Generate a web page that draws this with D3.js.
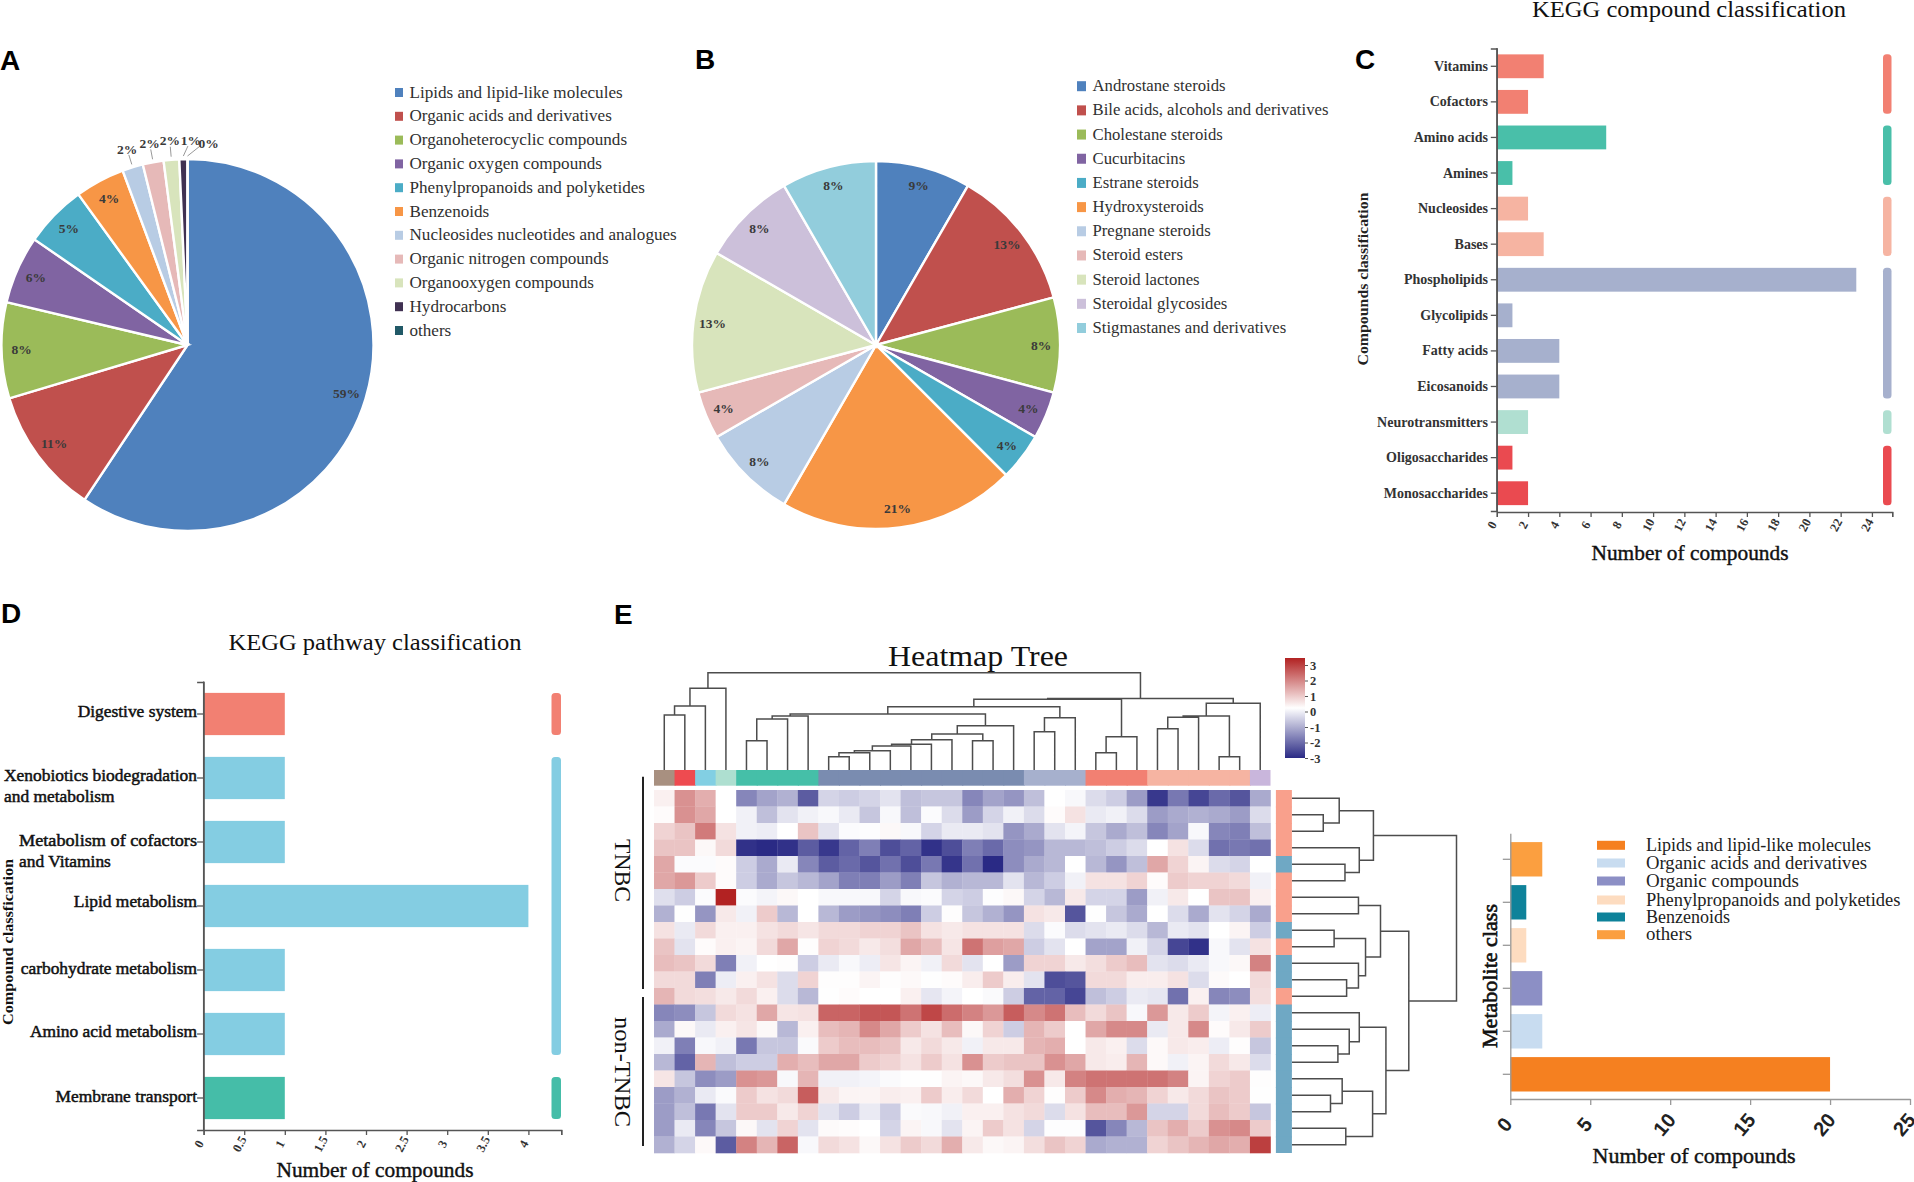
<!DOCTYPE html>
<html><head><meta charset="utf-8">
<script src="https://cdnjs.cloudflare.com/ajax/libs/d3/7.8.5/d3.min.js"></script>
<style>
html,body{margin:0;padding:0;background:#fff;overflow:hidden}
svg{display:block}
text{font-family:"Liberation Serif",serif}
</style></head><body>
<svg id="c" width="1914" height="1182"></svg>
<script>
// ---------- DATA ----------
const pieACats = ["Lipids and lipid-like molecules","Organic acids and derivatives","Organoheterocyclic compounds","Organic oxygen compounds","Phenylpropanoids and polyketides","Benzenoids","Nucleosides nucleotides and analogues","Organic nitrogen compounds","Organooxygen compounds","Hydrocarbons","others"];
const pieAValues = [59.2,11,8.3,5.9,5.4,4.3,1.8,1.8,1.35,0.7,0];
const pieALabels = ["59%","11%","8%","6%","5%","4%","2%","2%","2%","1%","0%"];
const pieAColors = ["#4f81bd","#c0504d","#9bbb59","#8064a2","#4bacc6","#f79646","#b8cce4","#e6b9b8","#d8e4bc","#403152","#215967"];

const pieBCats = ["Androstane steroids","Bile acids, alcohols and derivatives","Cholestane steroids","Cucurbitacins","Estrane steroids","Hydroxysteroids","Pregnane steroids","Steroid esters","Steroid lactones","Steroidal glycosides","Stigmastanes and derivatives"];
const pieBValues = [2,3,2,1,1,5,2,1,3,2,2];
const pieBLabels = ["9%","13%","8%","4%","4%","21%","8%","4%","13%","8%","8%"];
const pieBColors = ["#4f81bd","#c0504d","#9bbb59","#8064a2","#4bacc6","#f79646","#b8cce4","#e6b9b8","#d8e4bc","#ccc0da","#92cddc"];

const keggCats = ["Vitamins","Cofactors","Amino acids","Amines","Nucleosides","Bases","Phospholipids","Glycolipids","Fatty acids","Eicosanoids","Neurotransmitters","Oligosaccharides","Monosaccharides"];
const keggValues = [3,2,7,1,2,3,23,1,4,4,2,1,2];
const keggGroup = [0,0,1,1,2,2,3,3,3,3,4,5,5];
const keggGroupColors = ["#f28072","#49bfa9","#f6b4a2","#a6b0cd","#b0dfd1","#ea4a50"];
const keggTicks = [0,2,4,6,8,10,12,14,16,18,20,22,24];

const pathCats = ["Digestive system","Xenobiotics biodegradation|and metabolism","Metabolism of cofactors|and Vitamins","Lipid metabolism","carbohydrate metabolism","Amino acid metabolism","Membrane transport"];
const pathValues = [1,1,1,4,1,1,1];
const pathGroup = [0,1,1,1,1,1,2];
const pathGroupColors = ["#f28072","#84cde2","#45bda8"];
const pathTicks = [0,0.5,1,1.5,2,2.5,3,3.5,4];

const classCats = ["Lipids and lipid-like molecules","Organic acids and derivatives","Organic compounds","Phenylpropanoids and polyketides","Benzenoids","others"];
const classValues = [20,2,2,1,1,2];
const classColors = ["#f58020","#c8dcf0","#8c8fc5","#fddcc0","#0e829a","#fb9f40"];
const classTicks = [0,5,10,15,20,25];

const heat = [
[0.2,1.5,1.1,0,-1.7,-1.3,-1.1,-2.3,-0.6,-0.7,-0.6,-0.4,-0.9,-0.8,-0.8,-1.7,-1.3,-1.5,-0.9,0,-0.1,-0.5,-0.7,-1.4,-2.8,-1.9,-2.6,-2.1,-2.4,-1.2],
[0.05,1.5,1.2,0,-0.2,-0.9,-0.4,-0.2,-0.1,-0.3,-0.8,-0.1,-0.9,-0.05,-0.5,-1.4,-0.6,-0.2,-0.5,0.05,0.4,-0.3,-0.2,-0.5,-1.4,-1.2,-1.1,-1.2,-1.4,-0.5],
[0.6,0.8,1.8,0.4,-0.2,-0.25,0,0.8,-0.4,-0.05,-0.03,0.1,-0.1,-0.6,-0.3,-0.3,-0.4,-1.5,-1.2,-0.4,-0.15,-0.8,-1.2,-0.9,-1.7,-1.3,-0.1,-1.7,-1.8,-0.9],
[0.8,0.8,0.1,0.5,-2.9,-3,-2.9,-2.3,-2.8,-2.2,-1.8,-2.5,-2.2,-2.9,-2.5,-1.8,-2.1,-1.6,-1.5,-1,-1,-0.9,-0.7,-0.5,0,0.4,-0.5,-2,-1.9,-2],
[1.2,-0.05,-0.05,0.05,-0.7,-1.2,-0.3,-1.7,-2.3,-2.1,-2.4,-2,-2.5,-1.9,-2.85,-2,-3,-1.6,-1.2,-1,0,-1,-1.5,-0.9,1.2,0.6,0.15,-0.5,-0.6,0],
[1.2,1.4,0.7,0.05,-0.7,-1.2,-0.8,-1,-1.3,-1.8,-1.8,-1.4,-1.8,-0.8,-1.1,-1,-1,-0.4,-1,-0.7,-0.2,0.4,0.4,0.6,0.05,0.7,0.6,0.6,0.5,-0.2],
[-0.45,-0.7,-0.05,3,-0.05,-0.15,0.1,0,-0.1,-0.1,-0.1,-0.6,-0.1,-0.05,-0.6,-0.7,-0.03,0.1,-0.6,-1,0.3,-0.6,-0.6,-1.4,-0.2,0.3,0,0.8,0.8,0.2],
[-1.1,0.02,-1.5,0.3,-0.2,0.7,-1,0,-1,-1.4,-1.5,-1.6,-1.8,-0.7,0.03,-0.8,-1.1,-1.5,0.4,0.3,-2.4,0.02,-0.8,-1.2,0,-0.5,-1.2,-0.4,-0.6,-1.2],
[0.4,-0.3,0.5,0.2,0.2,0.4,0.5,0.35,0.5,0.5,0.6,0.6,0.8,0.4,0.3,0.4,0.4,0.4,-0.5,-0.05,-0.5,-0.4,-0.3,-0.5,-1,-0.3,-0.4,0,0.15,-0.7],
[0.8,-0.4,0.05,0.2,0.15,0.5,1.2,0.03,0.6,0.5,0.3,0.45,1.2,0.9,0.35,1.9,1.3,1.2,-0.7,-0.4,0,-1.3,-1.3,-0.2,-0.6,-2.6,-2.9,-0.1,-0.4,0.4],
[0.9,0.8,0.5,-1.8,-0.2,0,0.03,-0.7,-0.3,-0.1,-0.25,0.35,0.15,-0.2,0.5,-0.4,0,-1.4,0.6,0.6,0.3,0.45,0.7,0.9,-0.4,-0.5,-0.3,-0.1,0.1,1.7],
[0.5,0.5,-1.8,-0.25,0.2,0.4,-0.5,0.6,0.03,0.03,0.15,0.03,0.08,0.02,0.05,0.25,0.7,0.25,-0.4,-2.5,-2.4,0.5,0.5,0.25,0.25,0.4,-0.5,0.07,0,0.5],
[1,0.5,0.45,0.3,0.5,0.2,-0.5,-1,0.02,0.05,0,0,0.2,-0.35,-0.15,0,-0.07,-0.7,-2.2,-2.2,-2.6,-0.9,-0.7,-0.3,-0.35,-2,0.2,-1.7,-1.6,0.45],
[-1.7,-1.6,-0.8,0.5,0.4,1.2,0.35,0.4,2.1,2.1,2.3,2.3,1.9,2.5,2,1.7,1.4,2.2,1.6,1.9,0.9,0.5,0.8,-0.1,1.4,0.3,0.7,-0.15,0.2,-0.25],
[-1.2,0.1,-0.3,0.2,0.35,0.1,-1,0.2,0.9,1,1.6,1.2,0.7,0.4,0.9,0.1,0.6,-0.7,1,0.7,0,1.2,1.6,1.6,-0.3,0.3,1.6,0.05,0.3,0.7],
[-0.2,-1.8,-0.1,-0.2,-1.9,-0.8,-0.8,-0.07,0.7,0.9,0.9,0.8,0.3,0.5,0.3,-0.2,0.3,0.3,1,1.1,0,0.3,0.2,-0.5,0.08,0.3,0.25,-0.25,0.03,-0.8],
[-1,-2.2,1,-0.9,-0.7,-0.7,1.1,0.9,1.2,1.2,0.7,0.6,0.4,0.7,0.4,1.5,0.7,0.8,0.8,1.5,1.2,0.3,0.25,1,0.08,-0.2,0.15,0.5,0.3,-0.5],
[0.35,-0.8,-1.6,-1.4,1.5,1.4,-0.1,1,-0.2,-0.2,-0.15,-0.07,-0.02,0.02,0.15,0.1,0.3,0.45,1.5,0.3,1.7,1.9,1.9,1.9,1.9,1.7,0.15,0.6,0.7,0.03],
[-1.4,-1.1,-0.3,-0.07,0.7,0.4,0.5,2.2,0.3,0.15,0.15,0.25,0.2,0.7,0.25,0.5,0,1.1,0.6,0.03,0.7,1.6,1.1,1,0.6,0.3,0.5,0.8,0.7,-0.02],
[-1.4,-0.9,-1.9,-0.4,0.7,0.7,0.3,0.6,-0.4,-0.7,-0.3,-0.7,-0.07,-0.1,-0.2,0.2,0.2,0.4,0.5,-0.5,0.4,0.9,0.9,1.4,-0.6,-0.6,0.5,0.9,0.7,-0.8],
[-1.4,-0.3,-1.7,-0.8,0.1,-0.4,0.6,-0.4,0.07,0.04,0,-0.6,0.15,-0.1,-0.4,0.15,0.7,0.4,-0.6,-0.03,-0.03,-2.4,-1.7,-1,0.8,1.1,0.7,1.5,1.6,0.7],
[-1.1,-0.6,0.08,-2.3,1.7,1,2.1,-0.1,0.5,0.4,0.1,0.4,0.7,0.5,1.1,0.3,0.1,0.15,0.45,0.8,0.6,-1.2,-1.1,-1.1,0.6,0.8,1,1.2,1.1,2.6]
];
const colAnnot = [0,1,2,3,4,4,4,4,5,5,5,5,5,5,5,5,5,5,6,6,6,7,7,7,8,8,8,8,8,9];
const colAnnotColors = ["#a89080","#ee4b50","#82cfe3","#aedfd0","#45bfa8","#7a8cb0","#a6b0cd","#f28072","#f6b4a2","#c9b6dc"];
const rowAnnot = [0,0,0,0,1,0,0,0,1,0,1,1,0,1,1,1,1,1,1,1,1,1];
const rowAnnotColors = ["#f9a08c","#6fa8c4"];
const heatTicks = [-3,-2,-1,0,1,2,3];

// dendrograms: [left, right, height]; a plain number is a leaf
const colTreeC47 = [[[4,5,30.1],6,52.4],7,55.5];
const colTreeBig = [[[[[[[[8,9,13.7],10,17.8],11,19.9],12,24.7],13,26.4],14,31.2],[15,16,30.1],37],17,45.5];
const colTreeLight = [[18,19,39.4],20,53.8];
const colTreeSalmon = [[21,22,17.8],23,34.2];
const colTreePeach = [[[[24,25,42.5],26,54.1],[27,28,13.7],55.5],29,68.5];
const colTree = [[[[0,1,56.5],2,65.8],3,83.9],
  [[[[colTreeC47,colTreeBig,57.5],colTreeLight,65.1],colTreeSalmon,72.6],colTreePeach,73.6],100];
const rowTreeA = [[0,[1,2,19],28.7],[3,[4,5,32.2],40.9],49.5];
const rowTreeB = [[6,7,40.4],[[8,9,25.6],[10,[11,12,33.2],40.4],44.7],53.8];
const rowTreeC = [[13,[14,[15,16,27.9],34.8],40.9],[[17,[18,19,23.4],30.5],[20,21,32.7],49],57.1];
const rowTree = [rowTreeA,[rowTreeB,rowTreeC,71],100];

// ---------- HELPERS ----------
const svg = d3.select("#c");
function label(g, s, x, y, size, o={}){
  const t = g.append("text").attr("x",x).attr("y",y).text(s)
    .attr("font-size",size).attr("fill",o.fill||"#000")
    .attr("text-anchor",o.anchor||"start")
    .attr("font-weight",o.weight||"normal");
  if(o.family) t.style("font-family",o.family);
  if(o.w) t.attr("textLength",o.w).attr("lengthAdjust","spacingAndGlyphs");
  if(o.rotate!==undefined) t.attr("transform",`rotate(${o.rotate},${x},${y})`);
  if(o.stroke) t.attr("stroke",o.fill||"#000").attr("stroke-width",o.stroke);
  return t;
}
function panel(s,x,y){ label(svg,s,x,y,28,{family:'"Liberation Sans",sans-serif',weight:"bold"}); }
function pie(g,cx,cy,r,vals,labels,cols,labelR,outer){
  const root = g.append("g").attr("transform",`translate(${cx},${cy})`);
  const arcs = d3.pie().sort(null)(vals);
  const arc = d3.arc().innerRadius(0).outerRadius(r);
  root.selectAll("path").data(arcs).join("path").attr("d",arc)
    .attr("fill",(d,i)=>cols[i]).attr("stroke","#fff").attr("stroke-width",2.4);
  const inner = d3.arc().innerRadius(labelR).outerRadius(labelR);
  arcs.forEach((d,i)=>{
    const o = outer && outer[i];
    let c;
    if(o){
      const a=(d.startAngle+d.endAngle)/2;
      c=[o.r*Math.sin(a)+(o.dx||0),-o.r*Math.cos(a)+(o.dy||0)];
      const l0=r+3,l1=r+13;
      root.append("line").attr("x1",l0*Math.sin(a)).attr("y1",-l0*Math.cos(a))
        .attr("x2",l1*Math.sin(a)+(o.dx||0)*0.6).attr("y2",-l1*Math.cos(a))
        .attr("stroke","#999").attr("stroke-width",1);
    } else c = inner.centroid(d);
    label(root,labels[i],c[0],c[1]+4.5,13.5,{anchor:"middle",weight:"bold",fill:"#3a3a3a"});
  });
}
function legend(g,cats,cols,x,y0,step,size,ms){
  cats.forEach((c,i)=>{
    const y=y0+i*step;
    g.append("rect").attr("x",x).attr("y",y-ms/2).attr("width",ms).attr("height",ms+1).attr("fill",cols[i]);
    label(g,c,x+ms+6.5,y+5.5,size,{fill:"#303030"});
  });
}
function dendro(g,node,pos,hs,orient){
  const p=d3.path();
  (function walk(n){
    if(typeof n==="number") return {p:pos(n),h:0};
    const a=walk(n[0]),b=walk(n[1]),h=n[2];
    const pt=(hh,pp)=>orient==="v"?[pp,hs(hh)]:[hs(hh),pp];
    p.moveTo(...pt(a.h,a.p)); p.lineTo(...pt(h,a.p)); p.lineTo(...pt(h,b.p)); p.lineTo(...pt(b.h,b.p));
    return {p:(a.p+b.p)/2,h};
  })(node);
  g.append("path").attr("d",p.toString()).attr("fill","none").attr("stroke","#4d4d4d").attr("stroke-width",1.5);
}
function styleAxis(a,color,w){
  a.selectAll("path").attr("stroke",color).attr("stroke-width",w);
  a.selectAll("line").attr("stroke",color).attr("stroke-width",w);
}
function barPanel(o){
  const g=svg.append("g");
  const y=d3.scaleBand().domain(d3.range(o.cats.length)).range([o.top,o.bottom]).padding(0);
  const h=y.bandwidth()*o.barFrac, off=(y.bandwidth()-h)/2;
  const x=d3.scaleLinear().domain([0,o.xEnd]).range([o.x0,o.x0+o.xEnd*o.unit]);
  g.selectAll("rect.b").data(o.vals).join("rect").attr("class","b")
    .attr("x",x(0)).attr("y",(d,i)=>y(i)+off).attr("width",d=>x(d)-x(0)).attr("height",h)
    .attr("fill",(d,i)=>o.groupColors[o.groups[i]]);
  d3.groups(o.cats.map((c,i)=>i),i=>o.groups[i]).forEach(([k,ids])=>{
    const a=ids[0],b=ids[ids.length-1];
    g.append("rect").attr("x",o.sideX).attr("width",o.sideW).attr("rx",3.5)
      .attr("y",y(a)+off).attr("height",y(b)+off+h-(y(a)+off)).attr("fill",o.groupColors[k]);
  });
  const base=o.axisY||o.bottom;
  const ax=g.append("g").attr("transform",`translate(0,${base})`)
    .call(d3.axisBottom(x).tickValues([...o.ticks,o.xEnd]).tickSize(5).tickFormat(d=>d===o.xEnd?"":d));
  styleAxis(ax,"#555",1.3);
  ax.selectAll("text").attr("font-size",o.tickSize).attr("font-weight","bold").attr("fill","#333")
    .attr("text-anchor","middle").attr("dy",0).attr("y",0)
    .attr("transform",`translate(-1.5,${o.tickDy}) rotate(-62)`);
  const ay=g.append("g").attr("transform",`translate(${o.x0},0)`)
    .call(d3.axisLeft(y).tickSize(o.tickLen).tickFormat(""));
  styleAxis(ay,"#555",1.3);
  g.append("line").attr("x1",o.x0).attr("x2",o.x0).attr("y1",o.top-0.5).attr("y2",base).attr("stroke","#555").attr("stroke-width",1.3);
  return {g,x,y};
}

// ---------- A ----------
panel("A",0,70);
const gA=svg.append("g");
pie(gA,187.5,345,186,pieAValues,pieALabels,pieAColors,166,
  {6:{r:205},7:{r:205},8:{r:205},9:{r:205,dx:8},10:{r:205,dx:21,dy:3}});
legend(gA,pieACats,pieAColors,395,92,23.8,17.1,8);

// ---------- B ----------
panel("B",695,69);
const gB=svg.append("g");
pie(gB,876,345,184,pieBValues,pieBLabels,pieBColors,165);
legend(gB,pieBCats,pieBColors,1077,85.7,24.18,16.7,9);

// ---------- C ----------
panel("C",1355,69);
const C=barPanel({cats:keggCats,vals:keggValues,groups:keggGroup,groupColors:keggGroupColors,
  top:48.5,bottom:511,axisY:512,x0:1496.8,unit:15.63,xEnd:25.3,ticks:keggTicks,barFrac:0.67,sideX:1883,sideW:8.5,tickSize:12.5,tickDy:15,tickLen:6});
keggCats.forEach((c,i)=>label(C.g,c,1488,C.y(i)+C.y.bandwidth()/2+4.5,14,{anchor:"end",weight:"bold",fill:"#333"}));
label(svg,"KEGG compound classification",1689,16.5,23,{anchor:"middle",w:314,fill:"#111"});
label(svg,"Number of compounds",1690,560,21.4,{anchor:"middle",w:197,fill:"#111",stroke:0.4});
label(svg,"Compounds classification",1368,279,15.5,{anchor:"middle",rotate:-90,w:173,weight:"bold",fill:"#222"});

// ---------- D ----------
panel("D",1,623);
const D=barPanel({cats:pathCats,vals:pathValues,groups:pathGroup,groupColors:pathGroupColors,
  top:682,bottom:1130,x0:203.6,unit:81.2,xEnd:4.405,ticks:pathTicks,barFrac:0.66,sideX:551.5,sideW:9.5,tickSize:12.5,tickDy:16,tickLen:6.5});
const pathLabelNudge = [-1,-1,0,-2.5,0,-1,0];
pathCats.forEach((c,i)=>{
  const cy=D.y(i)+D.y.bandwidth()/2+pathLabelNudge[i], parts=c.split("|");
  if(parts.length===1){
    label(D.g,parts[0],197,cy+3.5,17.4,{anchor:"end",fill:"#111",stroke:0.5});
  } else {
    const w=(parts[0].startsWith("Xeno"))?193:178, lx=197-w;
    label(D.g,parts[0],lx,cy+3.5,17.4,{w,fill:"#111",stroke:0.5});
    label(D.g,parts[1],lx,cy+24.5,17.4,{fill:"#111",stroke:0.5});
  }
});
label(svg,"KEGG pathway classification",375,650,22.5,{anchor:"middle",w:293,fill:"#111"});
label(svg,"Number of compounds",375,1177,21.4,{anchor:"middle",w:197,fill:"#111",stroke:0.4});
label(svg,"Compound classfication",13,942,15,{anchor:"middle",rotate:-90,w:166,weight:"bold",fill:"#111"});

// ---------- E heatmap ----------
panel("E",614,624);
const gE=svg.append("g");
const hx=d3.scaleBand().domain(d3.range(30)).range([654,1270.5]);
const hy=d3.scaleBand().domain(d3.range(22)).range([790,1153]);
const heatColor=d3.scaleLinear().domain([-3,0,3]).range(["#2a2a85","#ffffff","#b22222"]);
heat.forEach((row,r)=>{
  gE.append("g").selectAll("rect").data(row).join("rect")
    .attr("x",(d,c)=>hx(c)).attr("y",hy(r)).attr("width",hx.bandwidth()+0.3).attr("height",hy.bandwidth()+0.3)
    .attr("fill",d=>heatColor(d));
});
gE.selectAll("rect.ca").data(colAnnot).join("rect").attr("class","ca")
  .attr("x",(d,c)=>hx(c)).attr("y",770).attr("width",(d,c)=>hx.bandwidth()+(c<29?1:0)).attr("height",15.7)
  .attr("fill",d=>colAnnotColors[d]);
gE.selectAll("rect.ra").data(rowAnnot).join("rect").attr("class","ra")
  .attr("x",1275.9).attr("y",(d,r)=>hy(r)).attr("width",16).attr("height",(d,r)=>hy.bandwidth()+(r<21?1:0))
  .attr("fill",d=>rowAnnotColors[d]);
dendro(gE,colTree,c=>hx(c)+hx.bandwidth()/2,d3.scaleLinear().domain([0,100]).range([770,672.7]),"v");
dendro(gE,rowTree,r=>hy(r)+hy.bandwidth()/2,d3.scaleLinear().domain([0,100]).range([1292,1456.5]),"h");
label(svg,"Heatmap Tree",978,666,30,{anchor:"middle",w:180,fill:"#111"});
gE.append("line").attr("x1",643).attr("x2",643).attr("y1",776.7).attr("y2",989).attr("stroke","#222").attr("stroke-width",2);
gE.append("line").attr("x1",643).attr("x2",643).attr("y1",997).attr("y2",1146).attr("stroke","#222").attr("stroke-width",2);
label(gE,"TNBC",615,870.5,23,{anchor:"middle",rotate:90,w:63,fill:"#111"});
label(gE,"non-TNBC",615,1072,23,{anchor:"middle",rotate:90,w:110,fill:"#111"});

// colour bar
const grad=svg.append("defs").append("linearGradient").attr("id","hm").attr("x1",0).attr("x2",0).attr("y1",1).attr("y2",0);
d3.range(0,1.001,0.1).forEach(t=>grad.append("stop").attr("offset",t).attr("stop-color",heatColor(-3+6*t)));
const cbY=d3.scaleLinear().domain([-3,3]).range([758,665]);
gE.append("rect").attr("x",1285).attr("y",658).attr("width",20).attr("height",100).attr("fill","url(#hm)");
const cbA=gE.append("g").attr("transform","translate(1305,0)")
  .call(d3.axisRight(cbY).tickValues(heatTicks).tickSize(3).tickFormat(String));
cbA.select("path").remove();
styleAxis(cbA,"#555",1);
cbA.selectAll("text").attr("font-size",12.5).attr("font-weight","bold").attr("fill","#333").attr("x",5);

// ---------- E bars ----------
const gF=svg.append("g");
const fy=d3.scaleBand().domain(d3.range(6)).range([1095.8,837.8]);
const fx=d3.scaleLinear().domain([0,25]).range([1510.3,1910]);
const fh=fy.bandwidth()*0.8, foff=(fy.bandwidth()-fh)/2;
gF.selectAll("rect").data(classValues).join("rect")
  .attr("x",fx(0)).attr("y",(d,i)=>fy(i)+foff).attr("width",d=>fx(d)-fx(0)).attr("height",fh)
  .attr("fill",(d,i)=>classColors[i]);
const fax=gF.append("g").attr("transform","translate(0,1099)")
  .call(d3.axisBottom(fx).tickValues(classTicks).tickSize(6).tickSizeOuter(0));
styleAxis(fax,"#999",1.3);
fax.selectAll("text").attr("font-size",20).attr("font-weight","bold").attr("fill","#222")
  .style("font-family",'"Liberation Sans",sans-serif')
  .attr("text-anchor","middle").attr("dy",0).attr("y",0)
  .attr("transform","translate(-1,30) rotate(-50)");
const fay=gF.append("g").attr("transform",`translate(${fx(0)},0)`)
  .call(d3.axisLeft(d3.scaleLinear().domain([0,1]).range([1099,833.3])).tickValues([]).tickSize(0));
styleAxis(fay,"#999",1.3);
classCats.forEach((c,i)=>{
  const yt=fy(i)+fy.bandwidth()/2;
  gF.append("line").attr("x1",fx(0)-7.5).attr("x2",fx(0)).attr("y1",yt).attr("y2",yt).attr("stroke","#999").attr("stroke-width",1.3);
});
const legY=[845.3,863,881,900,917,934.7];
const legW=[225,221,153,254.5,84,46];
classCats.forEach((c,i)=>{
  gF.append("rect").attr("x",1597).attr("y",legY[i]-4.5).attr("width",28).attr("height",9).attr("fill",classColors[i]);
  label(gF,c,1646,legY[i]+5.5,18.5,{fill:"#222",w:legW[i]});
});
label(svg,"Metabolite class",1497,976,21,{anchor:"middle",rotate:-90,w:144,fill:"#111",stroke:0.6});
label(svg,"Number of compounds",1694,1163,22,{anchor:"middle",w:203,fill:"#111",stroke:0.4});
</script>
</body></html>
